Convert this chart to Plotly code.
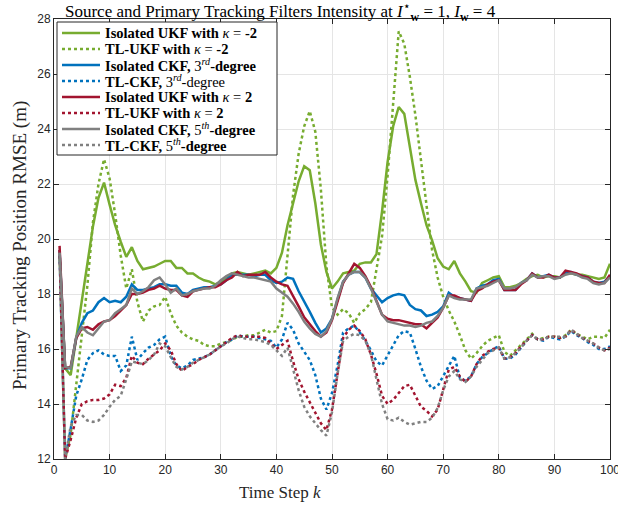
import plotly.graph_objects as go

k = list(range(1, 101))

iso_ukf_m2 = [19.5,15.3,15.05,16.4,17.7,19.2,20.45,21.5,22.05,21.25,
 20.5,19.9,19.35,19.7,19.2,18.9,18.95,19.0,19.1,19.2,
 19.2,18.95,18.95,18.75,18.75,18.6,18.5,18.45,18.35,18.45,
 18.6,18.75,18.8,18.75,18.7,18.75,18.8,18.85,18.75,18.95,
 19.5,20.5,21.3,22.1,22.65,22.5,21.3,19.8,18.8,18.2,
 18.45,18.75,18.8,18.85,19.1,19.15,19.15,19.45,21.0,22.8,
 24.1,24.8,24.55,23.3,22.15,21.3,20.5,19.95,19.3,19.0,
 18.9,19.2,18.75,18.45,18.1,18.05,18.4,18.5,18.6,18.65,
 18.25,18.25,18.3,18.4,18.55,18.65,18.7,18.6,18.65,18.65,
 18.6,18.75,18.75,18.7,18.7,18.65,18.6,18.55,18.6,19.1]

tl_ukf_m2 = [19.5,12.0,12.9,14.7,16.3,18.3,20.6,22.0,22.9,22.2,
 20.9,19.4,18.2,18.9,17.7,17.0,17.4,17.55,17.6,17.9,
 17.3,16.85,16.6,16.45,16.35,16.3,16.15,16.1,16.1,16.2,
 16.25,16.33,16.45,16.45,16.5,16.5,16.6,16.7,16.6,16.65,
 17.2,19.5,21.6,23.1,24.1,24.65,23.9,21.8,19.0,17.5,
 17.25,17.45,17.3,16.95,17.3,17.45,17.7,18.9,20.1,22.3,
 24.9,27.55,27.1,25.9,24.5,22.9,21.2,19.6,18.6,17.9,
 17.4,17.0,16.5,15.95,15.65,15.85,16.1,16.3,16.4,16.5,
 15.9,15.75,15.95,16.15,16.35,16.55,16.35,16.4,16.45,16.45,
 16.4,16.5,16.7,16.55,16.45,16.35,16.45,16.45,16.4,16.7]

iso_ckf3 = [19.6,15.3,15.3,16.4,16.95,17.3,17.4,17.7,17.85,17.7,
 17.75,17.7,17.9,18.35,18.15,18.15,18.2,18.25,18.35,18.35,
 18.3,18.3,18.05,18.0,18.15,18.2,18.25,18.25,18.3,18.35,
 18.5,18.7,18.7,18.7,18.7,18.65,18.7,18.7,18.5,18.4,
 18.45,18.6,18.55,18.1,17.75,17.35,16.95,16.6,16.75,17.1,
 17.8,18.45,18.7,18.8,18.8,18.6,18.2,17.95,17.7,17.85,
 17.95,18.0,17.95,17.6,17.45,17.4,17.2,17.25,17.35,17.55,
 18.05,17.9,17.85,17.8,17.75,18.2,18.3,18.35,18.5,18.55,
 18.15,18.15,18.15,18.4,18.5,18.75,18.6,18.65,18.7,18.6,
 18.6,18.8,18.8,18.7,18.65,18.6,18.45,18.4,18.45,18.65]

tl_ckf3 = [19.4,12.0,13.1,14.3,14.9,15.6,15.85,15.95,15.8,15.75,
 15.75,15.2,15.4,16.45,15.6,15.85,16.05,16.15,16.35,16.45,
 15.75,15.4,15.3,15.4,15.6,15.65,15.7,15.8,15.95,16.1,
 16.25,16.35,16.5,16.45,16.45,16.45,16.4,16.35,16.3,16.05,
 16.35,16.95,16.7,16.2,15.9,15.6,15.05,14.2,13.8,14.4,
 15.4,16.6,16.75,16.85,16.6,16.3,15.95,15.55,15.4,15.75,
 16.15,16.5,16.65,16.6,16.0,15.35,14.85,14.55,14.65,15.0,
 15.4,15.75,14.95,14.85,15.0,15.45,15.7,15.85,16.0,16.1,
 15.65,15.65,15.8,16.05,16.3,16.5,16.35,16.3,16.45,16.4,
 16.35,16.45,16.65,16.5,16.4,16.25,16.15,16.0,16.0,16.1]

iso_ukf_p2 = [19.75,15.3,15.35,16.4,16.75,16.8,16.7,16.9,17.0,17.05,
 17.2,17.4,17.6,18.0,18.0,18.05,18.15,18.2,18.3,18.2,
 18.15,18.15,17.95,17.9,18.1,18.15,18.2,18.25,18.25,18.35,
 18.5,18.6,18.8,18.65,18.7,18.7,18.7,18.8,18.6,18.45,
 18.35,18.3,17.95,17.55,17.15,16.9,16.65,16.45,16.6,17.05,
 17.7,18.4,18.75,19.1,18.95,18.65,18.25,17.75,17.25,17.1,
 17.05,17.05,17.0,16.95,16.9,16.9,16.75,16.95,17.15,17.5,
 17.95,17.95,17.85,17.8,17.75,18.1,18.2,18.35,18.45,18.5,
 18.15,18.15,18.15,18.35,18.5,18.75,18.6,18.6,18.7,18.6,
 18.6,18.85,18.8,18.75,18.65,18.6,18.45,18.4,18.4,18.7]

tl_ukf_p2 = [19.6,12.0,12.7,13.5,14.0,14.1,14.15,14.15,14.2,14.35,
 14.7,14.65,14.95,15.75,15.5,15.45,15.65,15.8,15.95,16.2,
 15.95,15.45,15.2,15.35,15.45,15.6,15.7,15.8,15.95,16.1,
 16.25,16.4,16.5,16.45,16.45,16.45,16.45,16.4,16.2,16.0,
 16.15,16.3,15.55,14.9,14.45,14.05,13.7,13.3,13.05,13.8,
 15.1,16.4,16.7,16.85,16.65,16.35,15.8,15.1,14.3,14.0,
 14.15,14.4,14.65,14.7,14.3,13.9,13.75,13.55,13.8,14.5,
 15.25,15.35,15.0,14.8,15.0,15.45,15.75,15.9,16.0,16.05,
 15.65,15.7,15.85,16.1,16.3,16.5,16.35,16.35,16.45,16.45,
 16.4,16.45,16.7,16.55,16.4,16.3,16.2,16.05,15.95,16.05]

iso_ckf5 = [19.5,15.35,15.3,16.45,16.8,16.6,16.5,16.75,17.0,17.05,
 17.3,17.45,17.6,18.2,18.0,18.1,18.25,18.5,18.6,18.35,
 18.05,18.2,17.95,18.0,18.1,18.15,18.2,18.2,18.3,18.5,
 18.65,18.75,18.7,18.65,18.6,18.6,18.55,18.5,18.45,18.2,
 18.05,17.9,17.65,17.35,17.0,16.75,16.55,16.45,16.65,17.1,
 17.85,18.45,18.7,18.8,18.8,18.6,18.2,17.7,17.25,17.0,
 16.95,16.9,16.85,16.85,16.8,16.85,16.95,17.0,17.2,17.5,
 17.95,17.85,17.8,17.8,17.8,18.2,18.25,18.3,18.4,18.5,
 18.2,18.2,18.25,18.4,18.5,18.7,18.6,18.65,18.65,18.55,
 18.6,18.7,18.75,18.7,18.6,18.55,18.4,18.35,18.4,18.6]

tl_ckf5 = [19.5,12.0,13.2,13.6,13.6,13.4,13.35,13.4,13.6,13.9,
 14.15,14.3,14.9,15.55,15.5,15.45,15.6,15.8,16.2,16.1,
 15.7,15.35,15.25,15.35,15.5,15.6,15.7,15.8,15.95,16.1,
 16.2,16.35,16.45,16.4,16.35,16.35,16.3,16.25,16.15,15.95,
 15.75,16.05,15.3,14.5,13.9,13.55,13.3,13.05,12.85,13.7,
 15.1,16.3,16.45,16.55,16.5,16.3,15.8,14.9,14.0,13.45,
 13.4,13.5,13.35,13.25,13.3,13.35,13.35,13.5,13.85,14.5,
 15.0,15.2,14.9,14.8,15.0,15.35,15.6,15.85,15.95,16.05,
 15.65,15.7,15.85,16.05,16.3,16.5,16.35,16.35,16.45,16.45,
 16.45,16.45,16.7,16.55,16.4,16.3,16.2,16.05,15.95,16.0]

x_ticks = [0, 10, 20, 30, 40, 50, 60, 70, 80, 90, 100]
y_ticks = [12, 14, 16, 18, 20, 22, 24, 26, 28]

names = [
    "<b>Isolated UKF with </b><i>κ</i> = <b>-2</b>",
    "<b>TL-UKF with </b><i>κ</i> = <b>-2</b>",
    "<b>Isolated CKF, </b>3<sup><i>rd</i></sup><b>-degree</b>",
    "<b>TL-CKF, </b>3<sup><i>rd</i></sup>-degree",
    "<b>Isolated UKF with </b><i>κ</i> = <b>2</b>",
    "<b>TL-UKF with </b><i>κ</i> = <b>2</b>",
    "<b>Isolated CKF, </b>5<sup><i>th</i></sup><b>-degree</b>",
    "<b>TL-CKF, </b>5<sup><i>th</i></sup><b>-degree</b>",
]
series = [iso_ukf_m2, tl_ukf_m2, iso_ckf3, tl_ckf3, iso_ukf_p2, tl_ukf_p2, iso_ckf5, tl_ckf5]
colors = ["#77AC30", "#77AC30", "#0072BD", "#0072BD", "#A2142F", "#A2142F", "#808080", "#808080"]
dashes = ["solid", "dot", "solid", "dot", "solid", "dot", "solid", "dot"]

fig = go.Figure()
for nm, ys, c, d in zip(names, series, colors, dashes):
    fig.add_trace(go.Scatter(x=k, y=ys, mode="lines", name=nm, showlegend=False,
                             line=dict(color=c, width=2.5, dash=d)))

# plot area in pixels (for the hand-built legend / labels)
L, R, T, B = 54, 610, 19, 459
def px(xp): return (xp - L) / (R - L)
def py(yp): return (B - yp) / (B - T)

shapes = [dict(type="rect", xref="paper", yref="paper",
               x0=px(57), x1=px(277), y0=py(155), y1=py(22),
               line=dict(color="#262626", width=1), fillcolor="white", layer="above")]
annotations = []
for i, (nm, c, d) in enumerate(zip(names, colors, dashes)):
    yc = 33 + 16 * i
    shapes.append(dict(type="line", xref="paper", yref="paper",
                       x0=px(62), x1=px(100), y0=py(yc), y1=py(yc),
                       line=dict(color=c, width=2.5, dash=d), layer="above"))
    annotations.append(dict(text=nm, xref="paper", yref="paper", x=px(104),
                            y=py(yc), xanchor="left", yanchor="middle",
                            showarrow=False, borderpad=0,
                            font=dict(family="Liberation Serif, serif", size=14.5, color="black")))

annotations.append(dict(text="Time Step <i>k</i>", xref="paper", yref="paper",
                        x=px(280), y=py(492), xanchor="center", yanchor="middle", showarrow=False,
                        font=dict(family="Liberation Serif, serif", size=17, color="#262626")))
annotations.append(dict(text="Primary Tracking Position RMSE (m)", xref="paper", yref="paper",
                        x=px(20), y=py(246), xanchor="center", yanchor="middle", showarrow=False,
                        textangle=-90,
                        font=dict(family="Liberation Serif, serif", size=19, color="#262626")))

axis_common = dict(showline=True, linecolor="#262626", linewidth=1, mirror="allticks",
                   ticks="inside", ticklen=5, tickcolor="#262626",
                   showgrid=True, gridcolor="#E5E5E5", gridwidth=1, zeroline=False,
                   ticklabeloverflow="allow", automargin=False,
                   tickfont=dict(family="Liberation Sans, Arial", size=12, color="#262626"))

fig.update_layout(
    width=618, height=508,
    margin=dict(l=L, r=618 - R, t=T, b=508 - B, autoexpand=False),
    paper_bgcolor="white", plot_bgcolor="white",
    title=dict(text="Source and Primary Tracking Filters Intensity at <i>I</i><sup>⋆</sup><sub><b>w</b></sub> = 1, <i>I</i><sub><b>w</b></sub> = 4",
               x=65/618, xanchor="left", xref="container", y=1-11/508, yanchor="middle", yref="container",
               automargin=False,
               font=dict(family="Liberation Serif, serif", size=17, color="black")),
    xaxis=dict(range=[0, 100], tickvals=x_ticks, ticktext=[str(v) for v in x_ticks], **axis_common),
    yaxis=dict(range=[12, 28], tickvals=y_ticks, ticktext=[str(v) for v in y_ticks], **axis_common),
    shapes=shapes,
    annotations=annotations,
    showlegend=False,
)

fig.write_html("out.html")
